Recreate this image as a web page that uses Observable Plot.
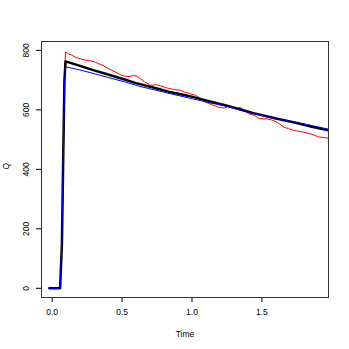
<!DOCTYPE html>
<html>
<head>
<meta charset="utf-8">
<script src="https://cdn.jsdelivr.net/npm/d3@7"></script>
<script src="https://cdn.jsdelivr.net/npm/@observablehq/plot@0.6"></script>
<style>
  html, body { margin: 0; padding: 0; background: #fff; }
  #chart svg { display: block; }
</style>
</head>
<body>
<div id="chart"></div>
<script>
// Series values
const blackTime = [-0.02, 0.057, 0.07, 0.08, 0.088, 0.096, 0.2, 0.3, 0.4, 0.512, 0.6, 0.75, 0.85, 0.977, 1.1, 1.25, 1.44, 1.6, 1.75, 1.85, 1.978];
const blackQ    = [0, 0, 150, 460, 700, 763, 748, 733, 719, 703, 690, 672, 659, 647, 632, 614, 589, 571, 556, 544, 531];

const blueTime = [-0.02, 0.057, 0.07, 0.08, 0.088, 0.096, 0.2, 0.3, 0.4, 0.512, 0.636, 0.707, 0.85, 0.977, 1.136, 1.25, 1.42, 1.6, 1.75, 1.85, 1.978];
const blueQ    = [0, 0, 150, 460, 690, 745, 734, 722, 709, 695, 678, 670, 654, 640, 623, 612, 589, 571, 557, 548, 535];

const redTime = [-0.02, 0.057, 0.07, 0.08, 0.09, 0.096, 0.11, 0.12, 0.14, 0.167, 0.2, 0.23, 0.262, 0.3, 0.334, 0.37, 0.405, 0.45, 0.489, 0.512, 0.55, 0.584, 0.61, 0.632, 0.66, 0.703, 0.74, 0.775, 0.81, 0.846, 0.88, 0.918, 0.954, 0.977, 1.0, 1.025, 1.06, 1.097, 1.14, 1.19, 1.23, 1.26, 1.287, 1.32, 1.347, 1.38, 1.406, 1.44, 1.47, 1.49, 1.537, 1.57, 1.61, 1.63, 1.656, 1.69, 1.728, 1.76, 1.8, 1.84, 1.87, 1.906, 1.94, 1.978];
const redQ    = [0, 0, 150, 470, 740, 794, 791, 788, 784, 777, 772, 768, 766, 762, 755, 748, 738, 728, 718, 714, 712, 716, 712, 705, 695, 682, 685, 681, 675, 671, 668, 666, 658, 657, 652, 649, 638, 626, 618, 609, 606, 612, 611, 606, 608, 596, 587, 583, 574, 570, 570, 566, 558, 551, 542, 537, 531, 528, 525, 520, 516, 509, 507, 505];

const xTicks = [0, 0.5, 1.0, 1.5];
const xTickLabels = ["0.0", "0.5", "1.0", "1.5"];
const yTicks = [0, 200, 400, 600, 800];
const yTickLabels = ["0", "200", "400", "600", "800"];

const toRows = (ts, qs) => ts.map((t, i) => ({t, q: qs[i]}));
const red = toRows(redTime, redQ);
const black = toRows(blackTime, blackQ);
const blue = toRows(blueTime, blueQ);

const font = "Liberation Sans, Arial, Helvetica, sans-serif";

const chart = Plot.plot({
  width: 349,
  height: 349,
  marginLeft: 41,
  marginRight: 21,
  marginTop: 41,
  marginBottom: 52,
  style: {fontFamily: font, fontSize: "8.5px", background: "#fff", color: "#000"},
  x: {domain: [-0.076, 1.976]},
  y: {domain: [-31, 830]},
  marks: [
    Plot.line(red, {x: "t", y: "q", stroke: "#ff0000", strokeWidth: 1, clip: true}),
    Plot.line(black, {x: "t", y: "q", stroke: "#000000", strokeWidth: 2.5, clip: true}),
    Plot.line(blue, {x: "t", y: "q", stroke: "#0000ff", strokeWidth: 1, clip: true}),
    Plot.axisX({ticks: xTicks, tickFormat: (d, i) => xTickLabels[i], tickSize: 5, tickPadding: 6, label: null, fontSize: 8.5}),
    Plot.axisY({ticks: yTicks, tickFormat: () => "", tickSize: 5, label: null}),
    Plot.text(yTicks, {x: -0.076, y: d => d, text: (d, i) => yTickLabels[i], rotate: -90, dx: -15, textAnchor: "middle", fontSize: 8.5}),
    Plot.text(["Time"], {frameAnchor: "bottom", dy: 39, text: d => d, fontSize: 8.5}),
    Plot.text(["Q"], {frameAnchor: "left", dx: -35, text: d => d, rotate: -90, fontSize: 8.5}),
    Plot.frame({stroke: "#333", strokeWidth: 1})
  ]
});
document.getElementById("chart").appendChild(chart);
</script>
</body>
</html>
